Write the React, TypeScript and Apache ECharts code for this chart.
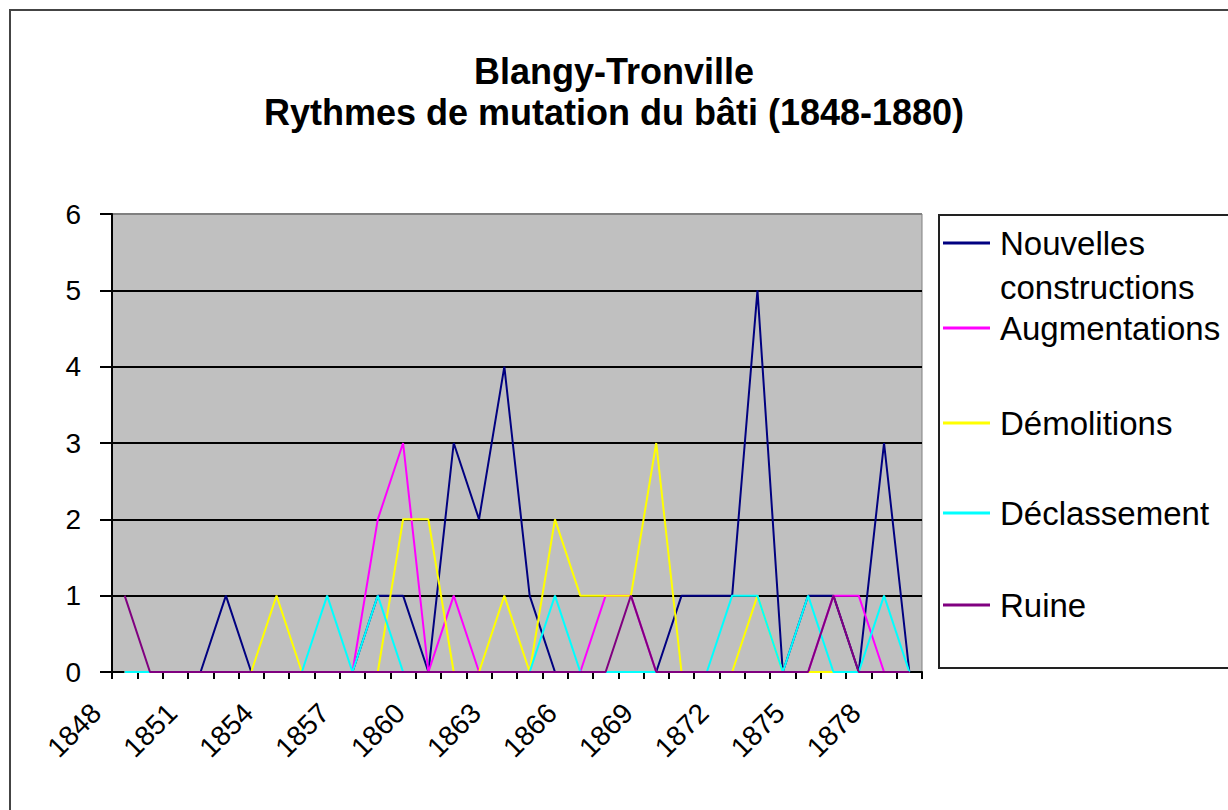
import React, { useEffect, useRef } from "react";
import * as echarts from "echarts";

const years: string[] = [
  "1848","1849","1850","1851","1852","1853","1854","1855","1856","1857",
  "1858","1859","1860","1861","1862","1863","1864","1865","1866","1867",
  "1868","1869","1870","1871","1872","1873","1874","1875","1876","1877",
  "1878","1879",
];

const nouvellesConstructions: number[] = [
  0,0,0,0,1,0,0,0,0,0, 1,1,0,3,2,4,1,0,0,0, 0,0,1,1,1,5,0,1,1,0, 3,0,
];
const augmentations: number[] = [
  0,0,0,0,0,0,0,0,0,0, 2,3,0,1,0,0,0,0,0,1, 1,0,0,0,0,0,0,0,1,1, 0,0,
];
const demolitions: number[] = [
  0,0,0,0,0,0,1,0,0,0, 0,2,2,0,0,1,0,2,1,1, 1,3,0,0,0,1,0,0,0,0, 0,0,
];
const declassement: number[] = [
  0,0,0,0,0,0,0,0,1,0, 1,0,0,0,0,0,0,1,0,0, 0,0,0,0,1,1,0,1,0,0, 1,0,
];
const ruine: number[] = [
  1,0,0,0,0,0,0,0,0,0, 0,0,0,0,0,0,0,0,0,0, 1,0,0,0,0,0,0,0,1,0, 0,0,
];

const seriesNames: string[] = [
  "Nouvelles constructions",
  "Augmentations",
  "Démolitions",
  "Déclassement",
  "Ruine",
];
const seriesColors: string[] = ["#000080", "#FF00FF", "#FFFF00", "#00FFFF", "#800080"];
const yTicks: number[] = [0, 1, 2, 3, 4, 5, 6];

const FONT = "'Liberation Sans', Arial, sans-serif";

export default function App() {
  const ref = useRef<HTMLDivElement>(null);

  useEffect(() => {
    if (!ref.current) return;
    const chart = echarts.init(ref.current, undefined, { renderer: "svg" });
    const data = [nouvellesConstructions, augmentations, demolitions, declassement, ruine];

    const legendCenters = [243, 328, 423, 513, 605];
    const legends: any[] = seriesNames.map((name, i) => {
      if (i === 0) {
        return {
          data: [name],
          orient: "vertical",
          left: 943,
          top: legendCenters[0] - 22,
          padding: 0,
          itemWidth: 47,
          itemHeight: 88,
          icon: "path://M0,20.5H47V23.5H0Z M0,0 M0,88",
          formatter: () => "Nouvelles\nconstructions",
          textStyle: { fontFamily: FONT, fontSize: 33, lineHeight: 44, color: "#000", padding: [0, 0, 0, 5] },
          selectedMode: false,
        };
      }
      return {
        data: [name],
        orient: "vertical",
        left: 943,
        top: legendCenters[i] - 18,
        padding: 0,
        itemWidth: 47,
        itemHeight: 3,
        icon: "path://M0,0H47V3H0Z",
        textStyle: { fontFamily: FONT, fontSize: 33, lineHeight: 36, color: "#000", padding: [0, 0, 0, 5] },
        selectedMode: false,
      };
    });

    chart.setOption({
      animation: false,
      backgroundColor: "#ffffff",
      title: {
        text: "Blangy-Tronville\nRythmes de mutation du bâti (1848-1880)",
        left: "center",
        top: 46,
        textStyle: {
          fontFamily: FONT,
          fontWeight: "bold",
          fontSize: 36,
          lineHeight: 41,
          color: "#000",
        },
      },
      graphic: [
        {
          type: "rect",
          z: -10,
          shape: { x: 10, y: 10, width: 1240, height: 830 },
          style: { fill: "none", stroke: "#444", lineWidth: 2 },
          silent: true,
        },
        {
          type: "rect",
          z: -5,
          shape: { x: 939, y: 215, width: 320, height: 453 },
          style: { fill: "#fff", stroke: "#222", lineWidth: 2 },
          silent: true,
        },
      ],
      legend: legends,
      grid: {
        left: 112,
        top: 214,
        right: 306,
        bottom: 138,
        show: true,
        backgroundColor: "#C0C0C0",
        borderColor: "#808080",
        borderWidth: 1,
        containLabel: false,
      },
      xAxis: {
        type: "category",
        data: years,
        boundaryGap: true,
        axisLine: { show: true, lineStyle: { color: "#000", width: 2 } },
        axisTick: { show: true, interval: 0, length: 7, lineStyle: { color: "#000", width: 2 } },
        axisLabel: {
          interval: 2,
          rotate: 45,
          margin: 8,
          padding: [0, 40, 25, 0],
          fontFamily: FONT,
          fontSize: 28,
          color: "#000",
        },
        splitLine: { show: false },
      },
      yAxis: {
        type: "value",
        min: 0,
        max: 6,
        interval: 1,
        axisLine: { show: true, lineStyle: { color: "#000", width: 2 } },
        axisTick: { show: true, length: 12, lineStyle: { color: "#000", width: 2 } },
        axisLabel: {
          margin: 31,
          fontFamily: FONT,
          fontSize: 28,
          color: "#000",
          formatter: (v: number) => (yTicks.includes(v) ? String(v) : ""),
        },
        splitLine: {
          show: true,
          lineStyle: { color: ["#000", "#000", "#000", "#000", "#000", "#000", "#808080"], width: 2 },
        },
      },
      series: seriesNames.map((name, i) => ({
        name,
        type: "line",
        data: data[i],
        showSymbol: false,
        symbol: "none",
        color: seriesColors[i],
        lineStyle: { color: seriesColors[i], width: 2 },
        z: 2 + i,
      })),
    });

    return () => chart.dispose();
  }, []);

  return (
    <div
      ref={ref}
      style={{ position: "fixed", left: 0, top: 0, width: 1228, height: 810, background: "#fff" }}
    />
  );
}
